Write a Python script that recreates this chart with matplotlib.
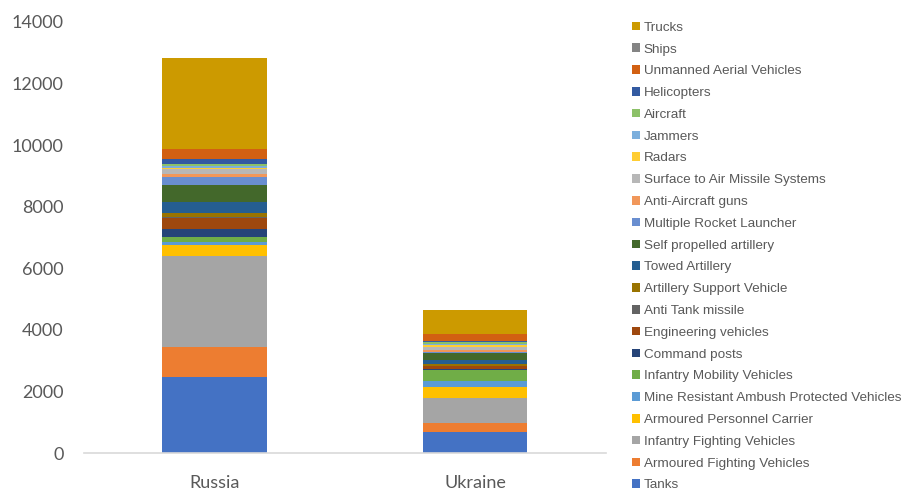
import matplotlib.pyplot as plt
from matplotlib.patches import Patch

countries = ["Russia", "Ukraine"]

# series from the bottom of the stack to the top
series_names = [
    "Tanks", "Armoured Fighting Vehicles", "Infantry Fighting Vehicles",
    "Armoured Personnel Carrier", "Mine Resistant Ambush Protected Vehicles",
    "Infantry Mobility Vehicles", "Command posts", "Engineering vehicles",
    "Anti Tank missile", "Artillery Support Vehicle", "Towed Artillery",
    "Self propelled artillery", "Multiple Rocket Launcher", "Anti-Aircraft guns",
    "Surface to Air Missile Systems", "Radars", "Jammers", "Aircraft",
    "Helicopters", "Unmanned Aerial Vehicles", "Ships", "Trucks",
]

russia = [2460, 995, 2955, 347, 87, 173, 270, 360, 10, 141, 347,
          552, 270, 98, 151, 30, 80, 60, 155, 320, 15, 2955]
ukraine = [682, 302, 813, 336, 195, 368, 32, 109, 5, 43, 141,
           216, 54, 54, 108, 40, 37, 70, 35, 227, 10, 770]

colors = ["#4472C4", "#ED7D31", "#A5A5A5", "#FFC000", "#5B9BD5", "#70AD47",
          "#264478", "#9E480E", "#636363", "#997300", "#255E91", "#43682B",
          "#698ED0", "#F1975A", "#B7B7B7", "#FFCD33", "#7CAFDD", "#8CC168",
          "#335AA1", "#D26012", "#848484", "#CC9A00"]

fig = plt.figure(figsize=(9.01, 4.93), dpi=100)
ax = fig.add_axes([0.0932, 0.0811, 0.579, 0.8743])

x = [0, 1]
bottoms = [0, 0]
for name, r, u, c in zip(series_names, russia, ukraine, colors):
    vals = [r, u]
    ax.bar(x, vals, width=0.4, bottom=bottoms, color=c, label=name,
           edgecolor="none")
    bottoms = [b + v for b, v in zip(bottoms, vals)]

ax.set_xlim(-0.5, 1.5)
ax.set_ylim(0, 14000)
ax.set_yticks(range(0, 14001, 2000))
ax.set_xticks(x)
ax.set_xticklabels(countries)
for s in ["top", "right", "left"]:
    ax.spines[s].set_visible(False)
ax.spines["bottom"].set_color("#D9D9D9")
ax.spines["bottom"].set_linewidth(1.2)
ax.tick_params(axis="both", length=0, labelsize=13, labelcolor="#595959")
ax.tick_params(axis="x", pad=16)
ax.tick_params(axis="y", pad=14.5)
for lab in ax.get_xticklabels() + ax.get_yticklabels():
    lab.set_family(["Lato", "DejaVu Sans"])

handles = [Patch(facecolor=c, edgecolor="none") for c in colors][::-1]
labels = series_names[::-1]
leg = fig.legend(handles, labels, loc="upper left",
                 bbox_to_anchor=(0.7017, 0.956), frameon=False,
                 handlelength=0.6, handleheight=0.6, handletextpad=0.25,
                 labelspacing=0.725, borderpad=0, borderaxespad=0,
                 prop={"family": ["Liberation Sans"], "size": 9.7})
for t in leg.get_texts():
    t.set_color("#595959")

fig.savefig("out.png", dpi=100)
